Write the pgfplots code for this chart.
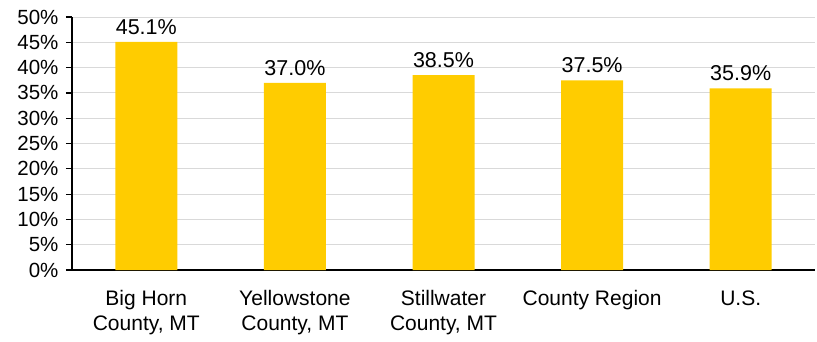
\documentclass[border=0pt]{standalone}
\usepackage{pgfplots}
\pgfplotsset{compat=1.18}
\usepackage{fontspec}
\setmainfont{Liberation Sans}
\definecolor{gold}{HTML}{FFCC00}
\definecolor{gridgray}{HTML}{D9D9D9}
\begin{document}
\begin{tikzpicture}[x=1pt,y=1pt]
\begin{axis}[
  at={(72pt,71pt)}, anchor=south west,
  scale only axis, width=743pt, height=253pt,
  xmin=-0.5, xmax=4.5, ymin=0, ymax=50,
  axis x line*=bottom, axis y line*=left,
  axis line style={line width=1.2pt, black},
  ytick={0,5,...,50},
  yticklabel={\pgfmathprintnumber{\tick}\%},
  /pgf/number format/assume math mode=true,
  ymajorgrids, grid style={gridgray, line width=1pt},
  y tick label style={font=\fontsize{20.5}{24}\selectfont, xshift=-4pt},
  ytick style={black, line width=1.2pt},
  major tick length=6pt,
  tick align=outside,
  xtick={0,1,2,3,4},
  xticklabels={{Big Horn\\County, MT},{Yellowstone\\County, MT},{Stillwater\\County, MT},{County Region},{U.S.}},
  x tick label style={font=\fontsize{21}{25}\selectfont, align=center, yshift=-11pt},
  x tick style={draw=none},
  extra x ticks={-0.5,0.5,1.5,2.5,3.5,4.5},
  extra x tick labels={},
  extra x tick style={tick style={black, line width=1.2pt}, major tick length=7pt, grid=none},
  ybar, bar width=62pt,
  nodes near coords={\pgfmathprintnumber[fixed,fixed zerofill,precision=1]{\pgfplotspointmeta}\%},
  nodes near coords style={font=\fontsize{21.5}{24}\selectfont, black, /pgf/number format/assume math mode=true, yshift=4pt},
]
\addplot[fill=gold, draw=none] coordinates {(0,45.1) (1,37.0) (2,38.5) (3,37.5) (4,35.9)};
\end{axis}
\pgfresetboundingbox
\path[use as bounding box] (0,0) rectangle (817,341);
\end{tikzpicture}
\end{document}
